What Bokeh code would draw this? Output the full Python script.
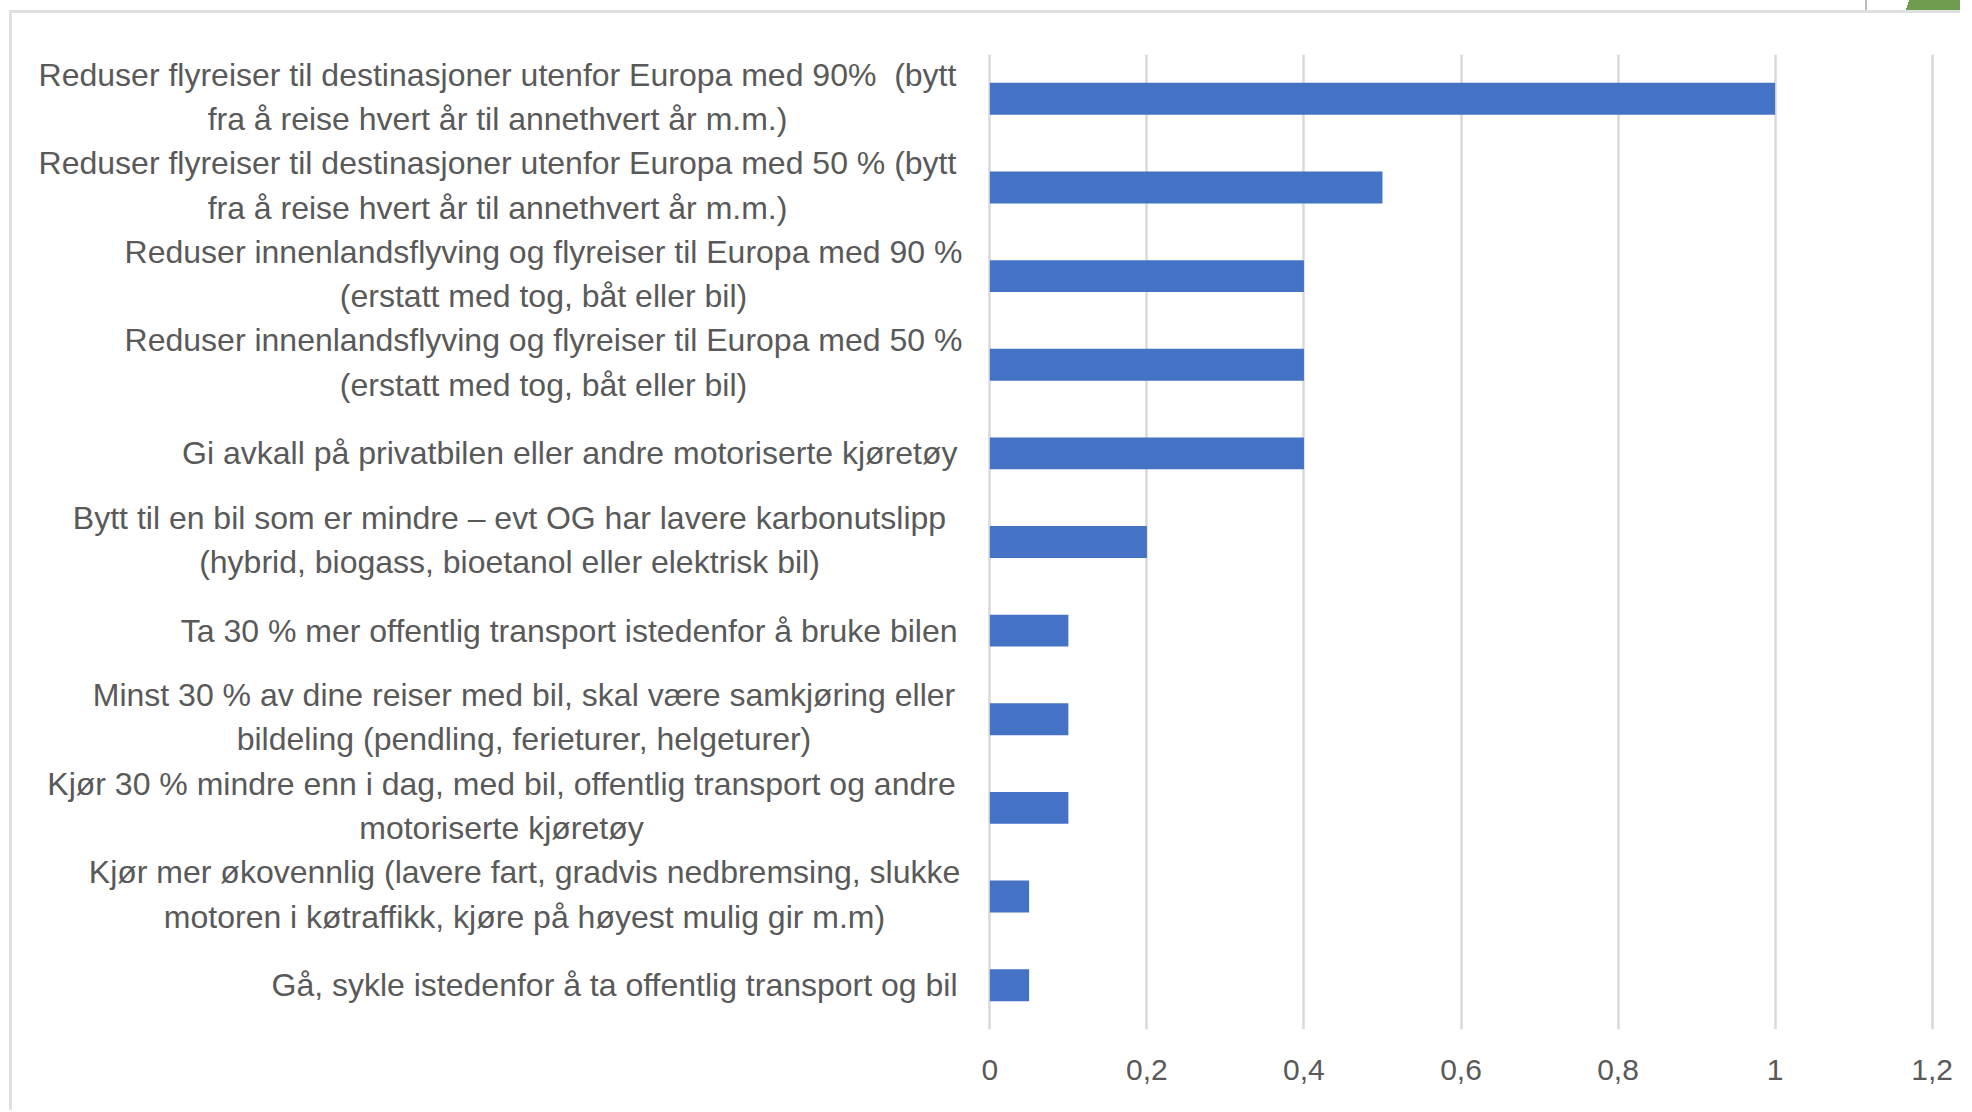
from bokeh.plotting import figure
from bokeh.layouts import row
from bokeh.models import ColumnDataSource, FactorRange, Range1d, FixedTicker
from bokeh.core.properties import value
from bokeh.embed import file_html
from bokeh.resources import INLINE

# ---------------- data ----------------
categories = [
    "Reduser flyreiser til destinasjoner utenfor Europa med 90%\u00a0 (bytt\nfra å reise hvert år til annethvert år m.m.)",
    "Reduser flyreiser til destinasjoner utenfor Europa med 50 % (bytt\nfra å reise hvert år til annethvert år m.m.)",
    "Reduser innenlandsflyving og flyreiser til Europa med 90 %\n(erstatt med tog, båt eller bil)",
    "Reduser innenlandsflyving og flyreiser til Europa med 50 %\n(erstatt med tog, båt eller bil)",
    "Gi avkall på privatbilen eller andre motoriserte kjøretøy",
    "Bytt til en bil som er mindre – evt OG har lavere karbonutslipp\n(hybrid, biogass, bioetanol eller elektrisk bil)",
    "Ta 30 % mer offentlig transport istedenfor å bruke bilen",
    "Minst 30 % av dine reiser med bil, skal være samkjøring eller\nbildeling (pendling, ferieturer, helgeturer)",
    "Kjør 30 % mindre enn i dag, med bil, offentlig transport og andre\nmotoriserte kjøretøy",
    "Kjør mer økovennlig (lavere fart, gradvis nedbremsing, slukke\nmotoren i køtraffikk, kjøre på høyest mulig gir m.m)",
    "Gå, sykle istedenfor å ta offentlig transport og bil",
]
values = [1.0, 0.5, 0.4, 0.4, 0.4, 0.2, 0.1, 0.1, 0.1, 0.05, 0.05]

tick_values = [0, 0.2, 0.4, 0.6, 0.8, 1.0, 1.2]
tick_labels = ["0", "0,2", "0,4", "0,6", "0,8", "1", "1,2"]

# ---------------- layout / style ----------------
FONT = "Liberation Sans"
TEXT_COLOR = "#595959"
W, H = 1960, 1110
LABEL_W = 968              # width of the label panel (px)
FRAME_TOP, FRAME_BOTTOM = 54, 1029
# horizontal centre (px) of each two-line label block; None = single line, right aligned
label_centers = [497, 497, 543, 543, None, 509, None, 523.5, 501, 524, None]
RIGHT_EDGE = 957

shared_y = FactorRange(factors=list(reversed(categories)))

# ---- chart panel ----
p = figure(width=W - LABEL_W, height=H,
           y_range=shared_y,
           x_range=Range1d(-0.003, 1.203),
           output_backend="svg", toolbar_location=None,
           y_axis_location=None,
           min_border_left=19, min_border_right=W - LABEL_W - 19 - 947,
           min_border_top=FRAME_TOP, min_border_bottom=H - FRAME_BOTTOM)
p.outline_line_color = None
p.background_fill_color = "white"
p.border_fill_color = None

src = ColumnDataSource(dict(cat=categories, val=values))
p.hbar(y="cat", left=0, right="val", height=0.36, source=src,
       fill_color="#4472C4", line_color=None)

ticker = FixedTicker(ticks=tick_values)
ax = p.xaxis[0]
ax.ticker = ticker
ax.major_label_overrides = {v: l for v, l in zip(tick_values, tick_labels)}
ax.axis_line_color = None
ax.major_tick_line_color = None
ax.minor_tick_line_color = None
ax.major_label_standoff = 24
ax.major_label_text_font = FONT
ax.major_label_text_font_size = "30px"
ax.major_label_text_color = TEXT_COLOR

p.xgrid.ticker = ticker
p.xgrid.grid_line_color = "#d9d9d9"
p.xgrid.grid_line_width = 2.5
p.ygrid.grid_line_color = None

# ---- label panel ----
lf = figure(width=LABEL_W, height=H,
            x_range=Range1d(0, LABEL_W), y_range=shared_y,
            x_axis_location=None, y_axis_location=None,
            output_backend="svg", toolbar_location=None,
            min_border_left=0, min_border_right=0,
            min_border_top=FRAME_TOP, min_border_bottom=H - FRAME_BOTTOM)
lf.outline_line_color = None
lf.background_fill_color = None
lf.border_fill_color = None
lf.grid.visible = False

c_x, c_y, c_t = [], [], []
r_x, r_y, r_t = [], [], []
for cat, center in zip(categories, label_centers):
    if center is None:
        r_x.append(RIGHT_EDGE); r_y.append(cat); r_t.append(cat)
    else:
        c_x.append(center); c_y.append(cat); c_t.append(cat)

common = dict(text_font=value(FONT), text_font_size="32px", text_color=TEXT_COLOR,
              text_baseline="middle", text_line_height=1.235)
lf.text(x="x", y="y", text="t", text_align="center", y_offset=-2,
        source=ColumnDataSource(dict(x=c_x, y=c_y, t=c_t)), **common)
lf.text(x="x", y="y", text="t", text_align="right",
        source=ColumnDataSource(dict(x=r_x, y=r_y, t=r_t)), **common)

# screenshot frame lines and the cut-off shape at the top right
layers = [
    ("linear-gradient(108deg, transparent 3px, #6f9d50 3px)", "1906px 0px", "54px 10px"),
    ("linear-gradient(#bdbdbd, #bdbdbd)", "1865px 0px", "2px 10px"),
    ("linear-gradient(#e0e0e0, #e0e0e0)", "9px 10px", "1951px 3px"),
    ("linear-gradient(#e0e0e0, #e0e0e0)", "9px 10px", "3px 1100px"),
]
styles = {
    "background-image": ", ".join(l[0] for l in layers),
    "background-position": ", ".join(l[1] for l in layers),
    "background-size": ", ".join(l[2] for l in layers),
    "background-repeat": ", ".join(["no-repeat"] * len(layers)),
}
layout = row(lf, p, spacing=0, styles=styles)

open("out.html", "w").write(file_html(layout, INLINE))
